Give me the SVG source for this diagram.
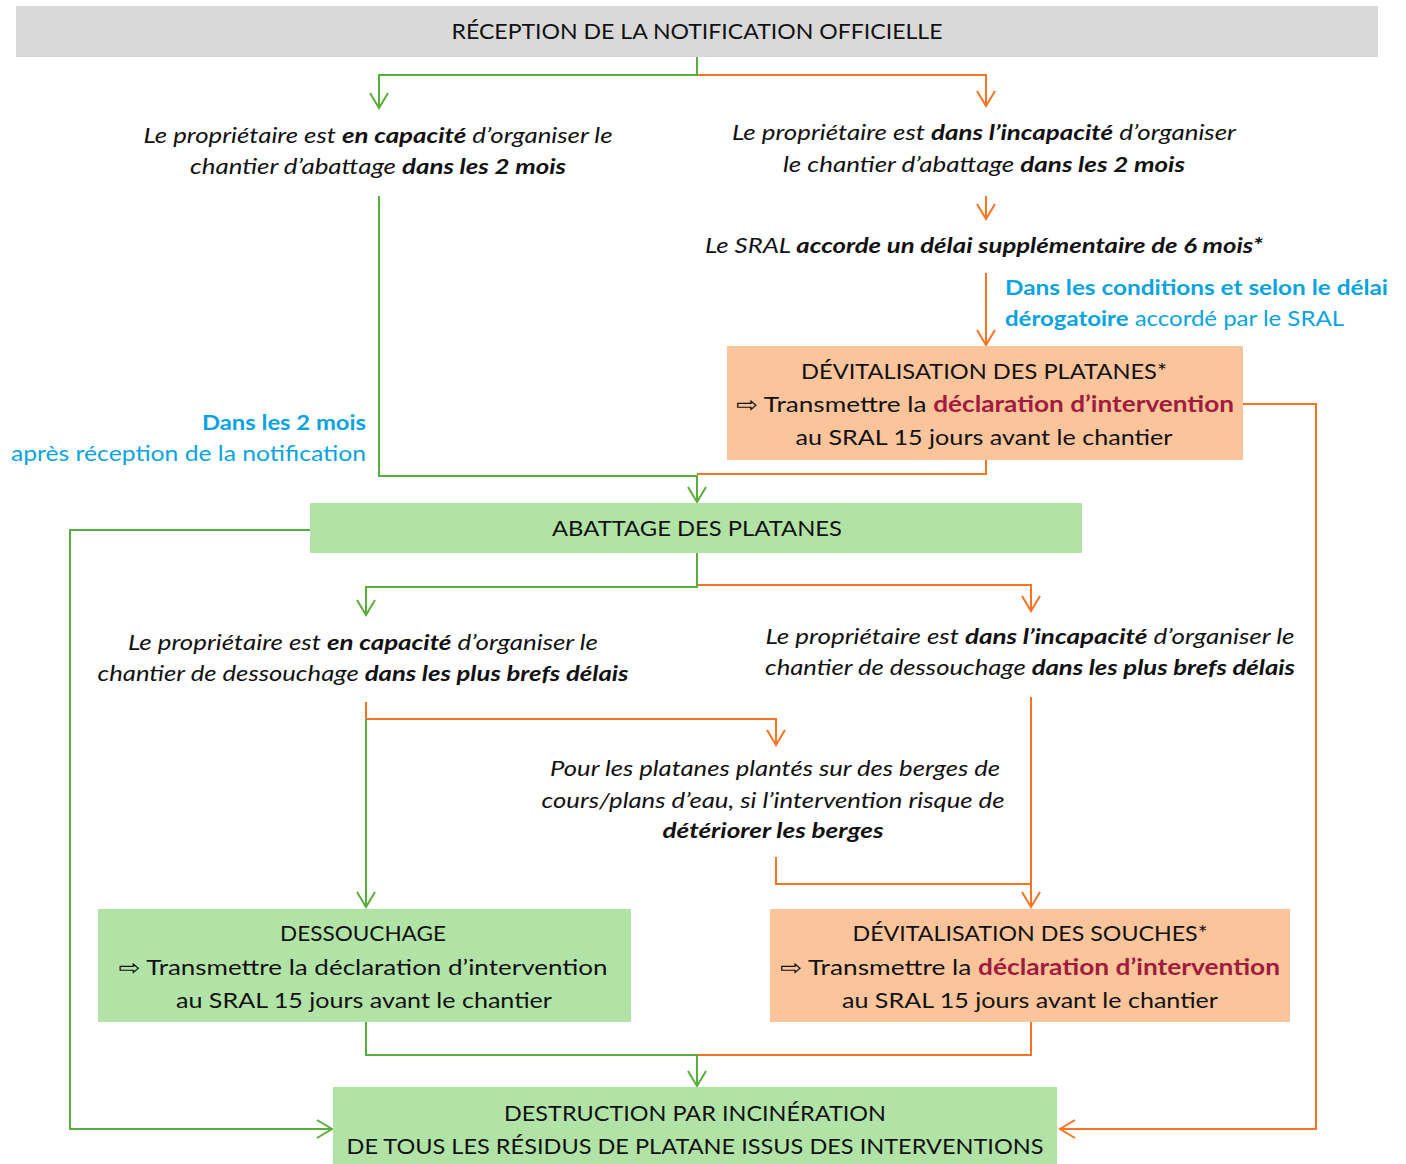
<svg xmlns="http://www.w3.org/2000/svg" width="1406" height="1164" viewBox="0 0 1406 1164">
<defs>
<style>
text{font-family:Lato,"Open Sans","DejaVu Sans",sans-serif;fill:#111;}
.t{font-size:22px;text-anchor:middle;}
.i{font-size:21px;font-style:italic;text-anchor:middle;}
.b{font-weight:bold;}
.blue{fill:#0aa3e2;font-size:21px;}
.red{fill:#a01c3c;font-weight:bold;}
.g{stroke:#58ae3b;stroke-width:2;fill:none;}
.o{stroke:#f87322;stroke-width:2;fill:none;}
.gf{fill:#b1e3a7;}
.of{fill:#fbc49b;}
</style>
<marker id="ag" markerUnits="userSpaceOnUse" viewBox="-2 -2 20 22" refX="15" refY="9" markerWidth="20" markerHeight="22" orient="auto">
<path d="M0,0 L15,9 L0,18" fill="none" stroke="#58ae3b" stroke-width="2"/>
</marker>
<marker id="ao" markerUnits="userSpaceOnUse" viewBox="-2 -2 20 22" refX="15" refY="9" markerWidth="20" markerHeight="22" orient="auto">
<path d="M0,0 L15,9 L0,18" fill="none" stroke="#f87322" stroke-width="2"/>
</marker>
</defs>
<rect width="1406" height="1164" fill="#fff"/>

<g id="connectors">
<path class="o" d="M697,57 V75 H986 V106" marker-end="url(#ao)"/>
<path class="g" d="M697,57 V75 H379 V108" marker-end="url(#ag)"/>
<path class="o" d="M986,196 V219" marker-end="url(#ao)"/>
<path class="o" d="M986,273 V345" marker-end="url(#ao)"/>
<path class="o" d="M986,460 V474 H697"/>
<path class="g" d="M379,196 V476 H697 V502" marker-end="url(#ag)"/>
<path class="o" d="M1243,404 H1316 V1129 H1060" marker-end="url(#ao)"/>
<path class="g" d="M310,530 H70 V1129 H332" marker-end="url(#ag)"/>
<path class="o" d="M697,553 V585 H1031 V611" marker-end="url(#ao)"/>
<path class="g" d="M697,553 V587 H366 V615" marker-end="url(#ag)"/>
<path class="o" d="M366,702 V719 H776 V745" marker-end="url(#ao)"/>
<path class="g" d="M366,719 V907" marker-end="url(#ag)"/>
<path class="o" d="M776,857 V884 H1031"/>
<path class="o" d="M1031,697 V907" marker-end="url(#ao)"/>
<path class="o" d="M1031,1022 V1055 H697"/>
<path class="g" d="M366,1022 V1055 H697 V1086" marker-end="url(#ag)"/>
</g>

<g id="reception">
<rect x="16" y="6" width="1362" height="51" fill="#d9d9d9"/>
<text class="t" x="697" y="39" textLength="491" lengthAdjust="spacingAndGlyphs">RÉCEPTION DE LA NOTIFICATION OFFICIELLE</text>
</g>

<g id="capacite-abattage">
<text class="i" x="378" y="143" textLength="469" lengthAdjust="spacingAndGlyphs">Le propriétaire est <tspan class="b">en capacité</tspan> d’organiser le</text>
<text class="i" x="378" y="174" textLength="376" lengthAdjust="spacingAndGlyphs">chantier d’abattage <tspan class="b">dans les 2 mois</tspan></text>
</g>

<g id="incapacite-abattage">
<text class="i" x="984" y="140" textLength="504" lengthAdjust="spacingAndGlyphs">Le propriétaire est <tspan class="b">dans l’incapacité</tspan> d’organiser</text>
<text class="i" x="984" y="172" textLength="402" lengthAdjust="spacingAndGlyphs">le chantier d’abattage <tspan class="b">dans les 2 mois</tspan></text>
</g>

<g id="sral-delai">
<text class="i" x="984" y="253" textLength="558" lengthAdjust="spacingAndGlyphs">Le SRAL <tspan class="b">accorde un délai supplémentaire de 6 mois*</tspan></text>
</g>

<g id="label-conditions">
<text class="blue b" x="1005" y="295" textLength="383" lengthAdjust="spacingAndGlyphs">Dans les conditions et selon le délai</text>
<text class="blue" x="1005" y="326" textLength="339" lengthAdjust="spacingAndGlyphs"><tspan class="b">dérogatoire</tspan> accordé par le SRAL</text>
</g>

<g id="devitalisation-platanes">
<rect class="of" x="727" y="346" width="516" height="114"/>
<text class="t" x="984" y="379" textLength="366" lengthAdjust="spacingAndGlyphs">DÉVITALISATION DES PLATANES*</text>
<text class="t" x="985" y="412" textLength="498" lengthAdjust="spacingAndGlyphs">⇨ Transmettre la <tspan class="red">déclaration d’intervention</tspan></text>
<text class="t" x="984" y="445" textLength="377" lengthAdjust="spacingAndGlyphs">au SRAL 15 jours avant le chantier</text>
</g>

<g id="label-2mois">
<text class="blue b" x="366" y="430" text-anchor="end" textLength="164" lengthAdjust="spacingAndGlyphs">Dans les 2 mois</text>
<text class="blue" x="366" y="461" text-anchor="end" textLength="355" lengthAdjust="spacingAndGlyphs">après réception de la notification</text>
</g>

<g id="abattage">
<rect class="gf" x="310" y="503" width="772" height="50"/>
<text class="t" x="697" y="536" textLength="290" lengthAdjust="spacingAndGlyphs">ABATTAGE DES PLATANES</text>
</g>

<g id="capacite-dessouchage">
<text class="i" x="363" y="650" textLength="470" lengthAdjust="spacingAndGlyphs">Le propriétaire est <tspan class="b">en capacité</tspan> d’organiser le</text>
<text class="i" x="363" y="681" textLength="531" lengthAdjust="spacingAndGlyphs">chantier de dessouchage <tspan class="b">dans les plus brefs délais</tspan></text>
</g>

<g id="incapacite-dessouchage">
<text class="i" x="1030" y="644" textLength="529" lengthAdjust="spacingAndGlyphs">Le propriétaire est <tspan class="b">dans l’incapacité</tspan> d’organiser le</text>
<text class="i" x="1030" y="675" textLength="530" lengthAdjust="spacingAndGlyphs">chantier de dessouchage <tspan class="b">dans les plus brefs délais</tspan></text>
</g>

<g id="berges">
<text class="i" x="775" y="776" textLength="450" lengthAdjust="spacingAndGlyphs">Pour les platanes plantés sur des berges de</text>
<text class="i" x="773" y="808" textLength="463" lengthAdjust="spacingAndGlyphs">cours/plans d’eau, si l’intervention risque de</text>
<text class="i b" x="773" y="838" textLength="221" lengthAdjust="spacingAndGlyphs">détériorer les berges</text>
</g>

<g id="dessouchage">
<rect class="gf" x="98" y="909" width="533" height="113"/>
<text class="t" x="363" y="941" textLength="166" lengthAdjust="spacingAndGlyphs">DESSOUCHAGE</text>
<text class="t" x="363" y="975" textLength="489" lengthAdjust="spacingAndGlyphs">⇨ Transmettre la déclaration d’intervention</text>
<text class="t" x="364" y="1008" textLength="376" lengthAdjust="spacingAndGlyphs">au SRAL 15 jours avant le chantier</text>
</g>

<g id="devitalisation-souches">
<rect class="of" x="770" y="909" width="520" height="113"/>
<text class="t" x="1030" y="941" textLength="355" lengthAdjust="spacingAndGlyphs">DÉVITALISATION DES SOUCHES*</text>
<text class="t" x="1030" y="975" textLength="500" lengthAdjust="spacingAndGlyphs">⇨ Transmettre la <tspan class="red">déclaration d’intervention</tspan></text>
<text class="t" x="1030" y="1008" textLength="376" lengthAdjust="spacingAndGlyphs">au SRAL 15 jours avant le chantier</text>
</g>

<g id="destruction">
<rect class="gf" x="333" y="1087" width="724" height="77"/>
<text class="t" x="695" y="1121" textLength="382" lengthAdjust="spacingAndGlyphs">DESTRUCTION PAR INCINÉRATION</text>
<text class="t" x="695" y="1154" textLength="697" lengthAdjust="spacingAndGlyphs">DE TOUS LES RÉSIDUS DE PLATANE ISSUS DES INTERVENTIONS</text>
</g>
</svg>
